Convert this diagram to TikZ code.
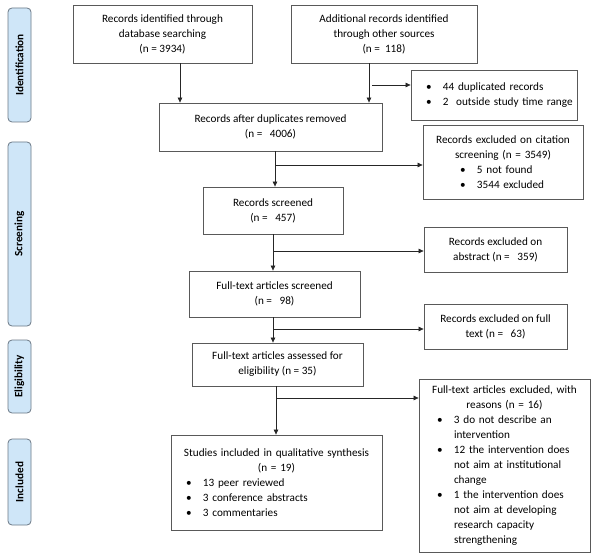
\documentclass[tikz,border=0pt]{standalone}
\usepackage{fontspec}
\setmainfont{Carlito}
\usetikzlibrary{arrows.meta,calc,positioning}
\definecolor{tabfill}{HTML}{CFE6F8}
\definecolor{tabline}{HTML}{6B7886}
\definecolor{boxline}{HTML}{595959}
\newcommand{\fs}{\fontsize{11.2}{15}\selectfont}
% list lines: bullet line, continued line
\newcommand{\bulline}[2]{\hspace*{#1}\makebox[17pt][l]{\textbullet}#2}
\newcommand{\contline}[2]{\hspace*{\dimexpr#1+17pt\relax}#2}
\tikzset{
  box/.style={draw=boxline, line width=0.8pt, fill=white, align=center, inner sep=0pt, font=\fs},
  listbox/.style={box, align=left, inner xsep=6pt},
  phase/.style={draw=tabline, line width=0.8pt, fill=tabfill, rounded corners=4pt, minimum width=23pt, inner sep=0pt, font=\fs\bfseries},
  arr/.style={draw=black!85, line width=0.7pt, -{Triangle[length=5pt,width=4.5pt]}}
}
\begin{document}
\begin{tikzpicture}[x=1pt,y=-1pt]
\useasboundingbox (0,0) rectangle (594,556);

% phase tabs
\node[phase, minimum height=114pt] (idf) at (19.5,65) {};
\node[rotate=90, font=\fs\bfseries] at (idf) {Identification};
\node[phase, minimum height=184pt] (scr) at (19.5,234) {};
\node[rotate=90, font=\fs\bfseries] at (scr) {Screening};
\node[phase, minimum height=73pt] (elg) at (19.5,376.5) {};
\node[rotate=90, font=\fs\bfseries] at (elg) {Eligibility};
\node[phase, minimum height=86pt] (inc) at (19.5,482) {};
\node[rotate=90, font=\fs\bfseries] at (inc) {Included};

% main column
\node[box, minimum width=179pt, minimum height=58pt] (rec1) at (162.5,34)
  {Records identified through\\ database searching\\ (n = 3934)};
\node[box, minimum width=186pt, minimum height=58pt] (rec2) at (384,34)
  {Additional records identified\\ through other sources\\ (n =\ \ 118)};
\node[box, minimum width=223pt, minimum height=48pt] (dedup) at (270.5,127)
  {Records after duplicates removed\\ (n =\ \ \ 4006)};
\node[box, minimum width=140pt, minimum height=47pt] (screened) at (273,210.5)
  {Records screened\\ (n =\ \ \ 457)};
\node[box, minimum width=171pt, minimum height=46pt] (fulltext) at (274.5,294)
  {Full-text articles screened\\ (n =\ \ \ 98)};
\node[box, minimum width=171pt, minimum height=43pt] (assessed) at (277.5,364.5)
  {Full-text articles assessed for\\ eligibility (n = 35)};
\node[listbox, text width=199pt, minimum height=95pt] (included) at (276.5,482.5)
  {{\centering Studies included in qualitative synthesis\\ (n = 19)\par}
   \bulline{9pt}{13 peer reviewed}\\
   \bulline{9pt}{3 conference abstracts}\\
   \bulline{9pt}{3 commentaries}};

% exclusion column
\node[listbox, inner xsep=3pt, text width=160pt, minimum height=50pt] (dup) at (494,95)
  {\bulline{12pt}{44 duplicated records}\\
   \bulline{12pt}{2\ \ outside study time range}};
\node[listbox, text width=148pt, minimum height=74pt] (citex) at (503,162)
  {{\centering Records excluded on citation\\ screening (n = 3549)\par}
   \bulline{31pt}{5 not found}\\
   \bulline{31pt}{3544 excluded}};
\node[box, minimum width=143pt, minimum height=45pt] (absex) at (495.5,249.5)
  {Records excluded on\\ abstract (n =\ \ \ 359)};
\node[box, minimum width=143pt, minimum height=45pt] (ftex) at (495.5,326.5)
  {Records excluded on full\\ text (n =\ \ \ 63)};
\node[listbox, text width=159pt, minimum height=173pt] (reasons) at (504.5,465.5)
  {{\centering Full-text articles excluded, with\\ reasons (n = 16)\par}
   \bulline{12pt}{3 do not describe an}\\
   \contline{12pt}{intervention}\\
   \bulline{12pt}{12 the intervention does}\\
   \contline{12pt}{not aim at institutional}\\
   \contline{12pt}{change}\\
   \bulline{12pt}{1 the intervention does}\\
   \contline{12pt}{not aim at developing}\\
   \contline{12pt}{research capacity}\\
   \contline{12pt}{strengthening}};

% branch points
\coordinate (b1) at (372,85);
\coordinate (t1) at (275,165);
\coordinate (t2) at (273,251);
\coordinate (t3) at (273,329);
\coordinate (t4) at (276,398);

% connectors
\draw[arr] ([xshift=17.5pt]rec1.south) -- ([xshift=17.5pt]rec1.south |- dedup.north);
\draw[arr] ([xshift=-15pt]rec2.south) -- ([xshift=-15pt]rec2.south |- dedup.north);
\draw[arr] (b1) -- (b1 -| dup.west);
\draw[arr] (dedup.south -| t1) -- (screened.north -| t1);
\draw[arr] (t1) -- (t1 -| citex.west);
\draw[arr] (screened.south -| t2) -- (fulltext.north -| t2);
\draw[arr] (t2) -- (t2 -| absex.west);
\draw[arr] (fulltext.south -| t3) -- (assessed.north -| t3);
\draw[arr] (t3) -- (t3 -| ftex.west);
\draw[arr] (assessed.south -| t4) -- (included.north -| t4);
\draw[arr] (t4) -- (t4 -| reasons.west);
\end{tikzpicture}
\end{document}
